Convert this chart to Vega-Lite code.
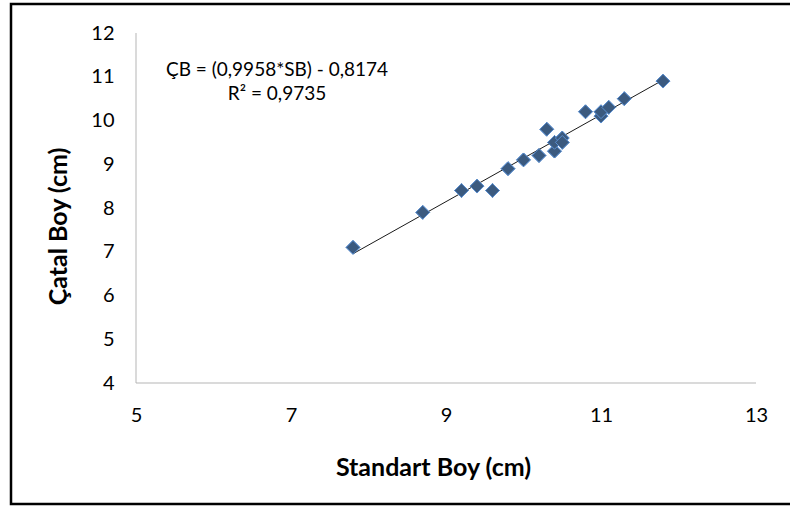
{
  "$schema": "https://vega.github.io/schema/vega-lite/v6.json",
  "width": 790,
  "height": 500,
  "autosize": {"type": "none"},
  "padding": {"left": 11, "top": 4, "right": -11, "bottom": 3},
  "background": "white",
  "config": {
    "view": {"stroke": "black", "strokeWidth": 2.5, "strokeDash": [779, 500, 5000]},
    "font": "Lato"
  },
  "data": {
    "values": [
      {"standart": 7.8, "catal": 7.1},
      {"standart": 8.7, "catal": 7.9},
      {"standart": 9.2, "catal": 8.4},
      {"standart": 9.4, "catal": 8.5},
      {"standart": 9.6, "catal": 8.4},
      {"standart": 9.8, "catal": 8.9},
      {"standart": 10.0, "catal": 9.1},
      {"standart": 10.2, "catal": 9.2},
      {"standart": 10.3, "catal": 9.8},
      {"standart": 10.4, "catal": 9.3},
      {"standart": 10.4, "catal": 9.5},
      {"standart": 10.5, "catal": 9.6},
      {"standart": 10.5, "catal": 9.5},
      {"standart": 10.8, "catal": 10.2},
      {"standart": 11.0, "catal": 10.1},
      {"standart": 11.0, "catal": 10.2},
      {"standart": 11.1, "catal": 10.3},
      {"standart": 11.3, "catal": 10.5},
      {"standart": 11.8, "catal": 10.9}
    ]
  },
  "layer": [
    {
      "mark": {"type": "point", "shape": "diamond", "filled": true, "size": 190, "fill": "#3b5a7f", "stroke": "#5b8fd0", "strokeWidth": 1, "opacity": 1},
      "encoding": {
        "x": {
          "field": "standart",
          "type": "quantitative",
          "scale": {"domain": [3.3871, 13.5806], "nice": false, "zero": false},
          "axis": {
            "values": [5, 7, 9, 11, 13],
            "format": "d",
            "offset": -121,
            "domain": false,
            "ticks": false,
            "tickSize": 0,
            "grid": false,
            "labelFontSize": 20,
            "labelColor": "#000000",
            "labelPadding": 32,
            "labelBaseline": "middle",
            "title": "Standart Boy (cm)",
            "titleFontSize": 25,
            "titleFontWeight": "bold",
            "titleColor": "#000000",
            "titleX": 422,
            "titleY": 84,
            "titleAlign": "center",
            "titleBaseline": "middle"
          }
        },
        "y": {
          "field": "catal",
          "type": "quantitative",
          "scale": {"domain": [1.2343, 12.6629], "nice": false, "zero": false},
          "axis": {
            "values": [4, 5, 6, 7, 8, 9, 10, 11, 12],
            "format": "d",
            "offset": -125,
            "domain": false,
            "ticks": false,
            "tickSize": 0,
            "grid": false,
            "labelFontSize": 20,
            "labelColor": "#000000",
            "labelPadding": 22,
            "title": "Çatal Boy (cm)",
            "titleFontSize": 25,
            "titleFontWeight": "bold",
            "titleColor": "#000000",
            "titleAngle": -90,
            "titleX": -78,
            "titleY": 222,
            "titleAlign": "center",
            "titleBaseline": "middle"
          }
        }
      }
    },
    {
      "data": {"values": [{}]},
      "mark": {"type": "rule", "color": "#b5b5b5", "strokeWidth": 1},
      "encoding": {
        "x": {"datum": 5, "type": "quantitative"},
        "y": {"datum": 4, "type": "quantitative"},
        "y2": {"datum": 12}
      }
    },
    {
      "data": {"values": [{}]},
      "mark": {"type": "rule", "color": "#b5b5b5", "strokeWidth": 1},
      "encoding": {
        "x": {"datum": 5, "type": "quantitative"},
        "x2": {"datum": 13},
        "y": {"datum": 4, "type": "quantitative"}
      }
    },
    {
      "transform": [{"regression": "catal", "on": "standart"}],
      "mark": {"type": "line", "color": "#1a1a1a", "strokeWidth": 1},
      "encoding": {
        "x": {"field": "standart", "type": "quantitative"},
        "y": {"field": "catal", "type": "quantitative"}
      }
    },
    {
      "mark": {"type": "point", "shape": "diamond", "filled": true, "size": 190, "fill": "#3b5a7f", "stroke": "#5b8fd0", "strokeWidth": 1, "opacity": 1},
      "encoding": {
        "x": {"field": "standart", "type": "quantitative"},
        "y": {"field": "catal", "type": "quantitative"}
      }
    },
    {
      "data": {"values": [{}]},
      "mark": {"type": "text", "text": ["ÇB = (0,9958*SB) - 0,8174", "R² = 0,9735"], "align": "center", "baseline": "alphabetic", "fontSize": 19, "fontWeight": "normal", "lineHeight": 24, "color": "#000000"},
      "encoding": {
        "x": {"datum": 6.82, "type": "quantitative"},
        "y": {"datum": 11.02, "type": "quantitative"}
      }
    }
  ]
}
